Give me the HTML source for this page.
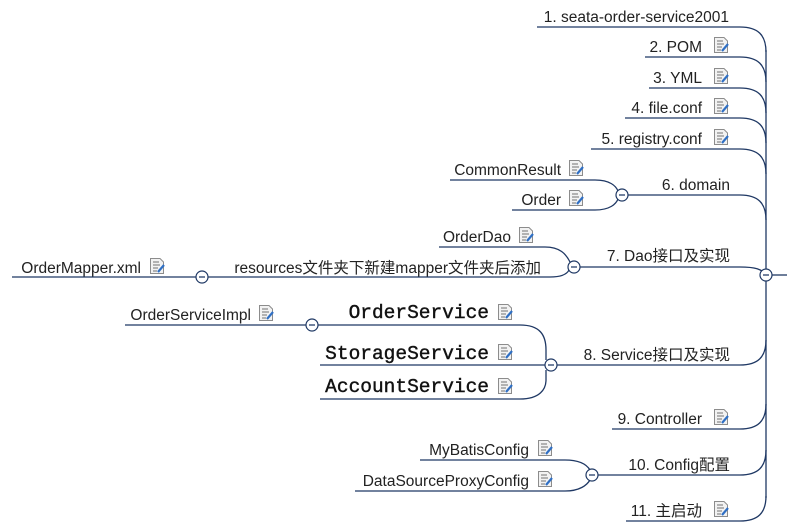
<!DOCTYPE html>
<html><head><meta charset="utf-8"><style>
html,body{margin:0;padding:0;background:#fff;}
svg{display:block;}
text{font-family:"Liberation Sans","Noto Sans CJK SC",sans-serif;font-size:15.5px;fill:#222;text-anchor:end;}
.m{font-family:"Liberation Mono","Noto Sans CJK SC",monospace;font-size:19.5px;fill:#111;stroke:#111;stroke-width:0.4;}
</style></head><body>
<svg width="787" height="532" viewBox="0 0 787 532" xmlns="http://www.w3.org/2000/svg">
<defs>
<g id="ic">
<path d="M0.5 0.5 H10 L13.5 4 V15.5 H0.5 Z" fill="#f2f2f2" stroke="#8c8c8c"/>
<path d="M3 4H9 M3 7H10 M3 10H8 M3 13H7" stroke="#8c8c8c" stroke-width="1.2"/>
<path d="M8 14 L14 7" stroke="#2f6fc4" stroke-width="2.2"/>
</g>
</defs>
<g fill="none" stroke="#1f3864" stroke-width="1.3">
<path d="M766 50 V498"/>
<path d="M537 27 H740 C758 27 766 35 766 52"/>
<path d="M645 57 H740 C758 57 766 65 766 82"/>
<path d="M649 88 H740 C758 88 766 96 766 113"/>
<path d="M625 118 H740 C758 118 766 126 766 143"/>
<path d="M591 149 H740 C758 149 766 157 766 174"/>
<path d="M628 195 H740 C758 195 766 203 766 220"/>
<path d="M579 267 H740 C755 267 762 269 766 275"/>
<path d="M772 275 H787"/>
<path d="M557 365 H740 C758 365 766 357 766 340"/>
<path d="M612 429 H740 C758 429 766 421 766 404"/>
<path d="M598 475 H740 C758 475 766 467 766 450"/>
<path d="M626 521 H740 C758 521 766 513 766 496"/>
<path d="M450 180 H595 C610 180 616 186 618 191"/>
<path d="M512 210 H595 C610 210 616 204 618 199"/>
<path d="M439 247 H545 C560 247 566 254 570 262"/>
<path d="M208 277 H550 C562 277 567 274 569 270"/>
<path d="M12 277 H197"/>
<path d="M318 325 H520 C540 325 546 335 546 350 V360"/>
<path d="M320 365 H546"/>
<path d="M320 399 H520 C540 399 546 389 546 380 V370"/>
<path d="M125 325 H306"/>
<path d="M420 460 H565 C580 460 587 465 590 470"/>
<path d="M355 491 H565 C580 491 587 485 590 480"/>
</g>
<g fill="#fff" stroke="#1f3864" stroke-width="1.2">
<circle cx="766" cy="275" r="6"/><circle cx="622" cy="195" r="6"/><circle cx="574" cy="267" r="6"/>
<circle cx="202" cy="277" r="6"/><circle cx="551" cy="365" r="6"/><circle cx="312" cy="325" r="6"/>
<circle cx="592" cy="475" r="6"/>
</g>
<g stroke="#1f3864" stroke-width="1.2">
<path d="M763 275H769 M619 195H625 M571 267H577 M199 277H205 M548 365H554 M309 325H315 M589 475H595"/>
</g>
<text x="729" y="22">1. seata-order-service2001</text>
<text x="702" y="52">2. POM</text><use href="#ic" x="714" y="37"/>
<text x="702" y="83">3. YML</text><use href="#ic" x="714" y="68"/>
<text x="702" y="113">4. file.conf</text><use href="#ic" x="714" y="98"/>
<text x="702" y="144">5. registry.conf</text><use href="#ic" x="714" y="129"/>
<text x="730" y="190">6. domain</text>
<text x="561" y="175">CommonResult</text><use href="#ic" x="569" y="160"/>
<text x="561" y="205">Order</text><use href="#ic" x="569" y="190"/>
<text x="730" y="261">7. Dao接口及实现</text>
<text x="511" y="242">OrderDao</text><use href="#ic" x="519" y="227"/>
<text x="541" y="273">resources文件夹下新建mapper文件夹后添加</text>
<text x="141" y="273">OrderMapper.xml</text><use href="#ic" x="150" y="258"/>
<text x="251" y="320">OrderServiceImpl</text><use href="#ic" x="259" y="305"/>
<text class="m" x="489" y="318">OrderService</text><use href="#ic" x="498" y="304"/>
<text class="m" x="489" y="359">StorageService</text><use href="#ic" x="498" y="344"/>
<text class="m" x="489" y="392">AccountService</text><use href="#ic" x="498" y="378"/>
<text x="730" y="360">8. Service接口及实现</text>
<text x="702" y="424">9. Controller</text><use href="#ic" x="714" y="409"/>
<text x="529" y="455">MyBatisConfig</text><use href="#ic" x="538" y="440"/>
<text x="529" y="486">DataSourceProxyConfig</text><use href="#ic" x="538" y="471"/>
<text x="730" y="470">10. Config配置</text>
<text x="702" y="516">11. 主启动</text><use href="#ic" x="714" y="501"/>
</svg>
</body></html>
